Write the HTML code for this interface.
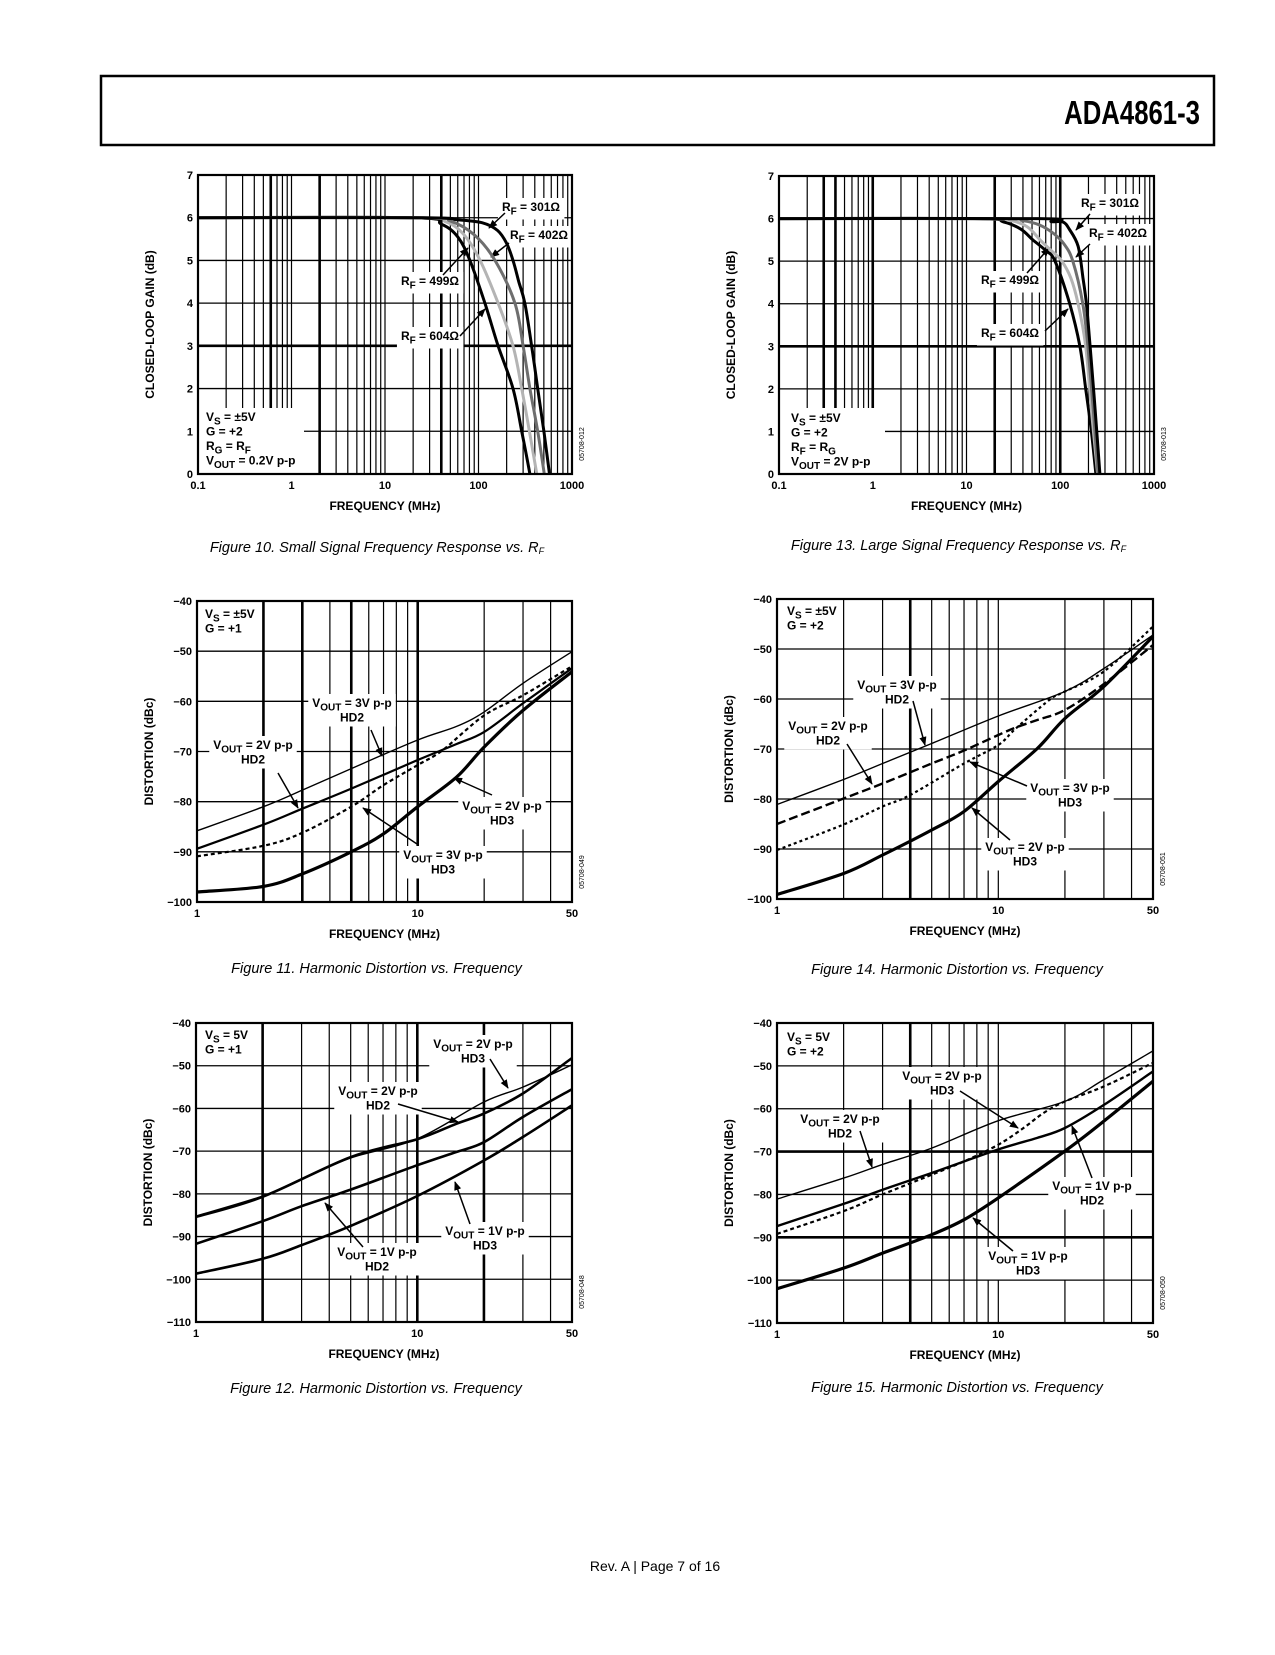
<!DOCTYPE html>
<html><head><meta charset="utf-8">
<style>
html,body{margin:0;padding:0;background:#fff;}
body{width:1275px;height:1650px;position:relative;overflow:hidden;font-family:"Liberation Sans",sans-serif;}
</style></head>
<body>
<svg id="pg" width="1275" height="1650" viewBox="0 0 1275 1650" xmlns="http://www.w3.org/2000/svg">
<defs>
<marker id="ah" viewBox="0 0 10 10" refX="9" refY="5" markerWidth="9" markerHeight="9" markerUnits="userSpaceOnUse" orient="auto">
<path d="M0,1 L10,5 L0,9 z" fill="#000"/></marker>
</defs>
<rect x="101" y="76" width="1113" height="69" fill="none" stroke="#000" stroke-width="2.5"/>
<text x="1200" y="124" text-anchor="end" font-family="Liberation Sans" font-weight="bold" font-size="33" transform="translate(1200 0) scale(0.78 1) translate(-1200 0)">ADA4861-3</text>
<text x="655" y="1571" text-anchor="middle" font-family="Liberation Sans" font-size="14">Rev. A | Page 7 of 16</text>
</svg>
<script>
// ---------- Figure 10 data ----------
const f10Freq301 = [0.1,25,60,110,160,200,234,270,313,370,430,500,575];
const f10Gain301 = [6,6,5.95,5.88,5.7,5.4,5.0,4.5,4.0,3.0,2.0,1.0,0];
const f10Freq402 = [0.1,25,50,90,150,245,300,355,430,505];
const f10Gain402 = [6,6,5.92,5.6,5.0,4.0,3.0,2.0,1.0,0];
const f10Freq499 = [0.1,22,45,70,104,162,234,290,350,420];
const f10Gain499 = [6,6,5.9,5.6,5.0,4.0,3.0,2.0,1.0,0];
const f10Freq604 = [0.1,20,40,60,81,117,162,234,290,355];
const f10Gain604 = [6,6,5.85,5.55,5.0,4.0,3.0,2.0,1.0,0];
// ---------- Figure 13 data ----------
const f13Freq301 = [0.1,60,80,107,125,155,175,190,208,230,265];
const f13Gain301 = [6,6,5.93,5.92,5.75,5.35,4.6,4.0,3.0,1.8,0];
const f13Freq402 = [0.1,20,40,60,85,110,136,174,197,225,253];
const f13Gain402 = [6,6,5.95,5.85,5.65,5.4,5.0,4.0,3.0,1.5,0];
const f13Freq499 = [0.1,15,30,45,61,80,104,130,155,187,215,250];
const f13Gain499 = [6,6,5.95,5.8,5.5,5.25,5.0,4.6,4.0,3.0,1.5,0];
const f13Freq604 = [0.1,12,25,38,51,70,88,126,162,187,215,240];
const f13Gain604 = [6,6,5.92,5.75,5.5,5.25,5.0,4.0,3.0,2.0,1.0,0];
// ---------- Figure 11 data ----------
const f11FreqA = [1,2,3,5,10,15,20,30,50];
const f11Hd2_3V = [-85.8,-81,-77.7,-73.4,-67.7,-65,-62.1,-56.4,-50.1];
const f11Hd2_2V = [-89.4,-84.6,-81.4,-77.4,-71.7,-68.5,-66.1,-60.4,-53.4];
const f11FreqB = [1,2,3,5,7,10,13,20,30,50];
const f11Hd3_3V = [-90.9,-88.8,-86.2,-81,-76.7,-72.7,-69.7,-62.8,-58.8,-53];
const f11FreqC = [1,2,3,5,7,10,15,20,30,50];
const f11Hd3_2V = [-98,-96.9,-94.4,-90,-86.4,-81,-75.1,-69.1,-61.8,-54.1];
// ---------- Figure 14 data ----------
const f14FreqA = [1,2,3,5,10,20,30,50];
const f14Hd2_3V = [-81.1,-76.1,-72.9,-68.9,-63.4,-58.5,-53.9,-47.2];
const f14FreqB = [1,2,3,5,7,10,12,15,20,30,50];
const f14Hd2_2V = [-85,-79.9,-76.9,-72.9,-70.3,-67.2,-65.7,-64.2,-62.2,-57,-49.2];
const f14FreqC = [1,2,3,4,7,10,12,17,20,30,50];
const f14Hd3_3V = [-90.2,-85.1,-81.5,-79.2,-72.9,-69.2,-65.9,-60.2,-58.5,-54.5,-45.5];
const f14FreqD = [1,2,3,5,7,10,15,20,30,50];
const f14Hd3_2V = [-99.1,-94.9,-91.2,-86.2,-82.5,-76.5,-69.9,-63.9,-57.5,-47.5];
// ---------- Figure 12 data ----------
const f12FreqA = [1,2,3,5,10,20,30,50];
const f12Hd3_2V = [-85.2,-80.5,-76.5,-71.6,-67.1,-58.5,-55,-49.8];
const f12FreqB = [1,2,5,10,15,20,30,50];
const f12Hd2_2V = [-85.4,-80.7,-71.4,-67.2,-63.6,-61.2,-56.5,-48.2];
const f12FreqC = [1,2,3,5,10,15,20,30,50];
const f12Hd2_1V = [-91.7,-86.4,-82.9,-79,-73.3,-70.2,-67.9,-62,-55.5];
const f12FreqD = [1,2,3,5,10,20,30,50];
const f12Hd3_1V = [-98.7,-95.2,-92,-87.5,-80.5,-72.2,-66.7,-59.3];
// ---------- Figure 15 data ----------
const f15FreqA = [1,2,3,5,10,20,30,50];
const f15Hd2_2V = [-81.1,-76.2,-73,-69.2,-62.8,-58.3,-53.2,-46.5];
const f15FreqB = [1,2,3,5,10,15,20,30,50];
const f15Hd2_1V = [-87.4,-82.2,-78.9,-75,-69.5,-66.8,-64.5,-59.1,-51.3];
const f15FreqC = [1,2,3,5,7,10,13,16,20,30,50];
const f15Hd3_2V = [-89.2,-83.9,-80,-75.4,-72.3,-68.4,-64.5,-61,-58.3,-54.8,-49.3];
const f15FreqD = [1,2,3,5,7,10,20,30,50];
const f15Hd3_1V = [-102,-97.2,-93.7,-89.4,-85.9,-80.8,-69.9,-62.9,-53.6];
// tick labels
const gainTicks = [0,1,2,3,4,5,6,7];
const freqTicksWide = [0.1,1,10,100,1000];
const freqTickLabelsWide = ['0.1','1','10','100','1000'];
const distTicks6 = [-40,-50,-60,-70,-80,-90,-100];
const distTicks7 = [-40,-50,-60,-70,-80,-90,-100,-110];
const freqTicksNarrow = [1,10,50];

const NS='http://www.w3.org/2000/svg';
const pg=document.getElementById('pg');
function mk(tag,attrs,parent){const e=document.createElementNS(NS,tag);for(const k in attrs)e.setAttribute(k,attrs[k]);(parent||pg).appendChild(e);return e;}
function minus(v){return String(v).replace('-','\u2212');}

function makeScales(c){
  const l0=Math.log10(c.xmin),l1=Math.log10(c.xmax);
  c.sx=f=>c.x+(Math.log10(f)-l0)/(l1-l0)*c.w;
  c.sy=v=>c.y+(c.ymax-v)/(c.ymax-c.ymin)*c.h;
}
function smoothPath(pts){
  let d='M'+pts[0][0].toFixed(1)+','+pts[0][1].toFixed(1);
  for(let i=0;i<pts.length-1;i++){
    const p0=pts[Math.max(0,i-1)],p1=pts[i],p2=pts[i+1],p3=pts[Math.min(pts.length-1,i+2)];
    const c1=[p1[0]+(p2[0]-p0[0])/6,p1[1]+(p2[1]-p0[1])/6];
    const c2=[p2[0]-(p3[0]-p1[0])/6,p2[1]-(p3[1]-p1[1])/6];
    d+=' C'+c1[0].toFixed(1)+','+c1[1].toFixed(1)+' '+c2[0].toFixed(1)+','+c2[1].toFixed(1)+' '+p2[0].toFixed(1)+','+p2[1].toFixed(1);
  }
  return d;
}
function frame(c){
  const g=mk('g',{});
  
  
  c.g=g;
  const l0=Math.floor(Math.log10(c.xmin)),l1=Math.ceil(Math.log10(c.xmax));
  for(let d=l0;d<l1;d++){for(let m=1;m<10;m++){const f=m*Math.pow(10,d);
    if(f<=c.xmin*1.0001||f>=c.xmax*0.9999)continue;
    const heavy=c.heavyX.some(h=>Math.abs(h-f)/f<1e-6);
    const ln=mk('line',{x1:c.sx(f),x2:c.sx(f),y1:c.y,y2:c.y+c.h,stroke:'#000','stroke-width':heavy?2.6:1.2},g);
    
    
  }}
  c.yTicks.forEach(v=>{
    const heavy=c.heavyY.includes(v);
    const ln=mk('line',{x1:c.x,x2:c.x+c.w,y1:c.sy(v),y2:c.sy(v),stroke:'#000','stroke-width':heavy?2.6:1.3},g);
    
    
    const t=mk('text',{x:c.x-5,y:c.sy(v)+4,'text-anchor':'end','font-size':11,'font-weight':'bold'},g);
    t.textContent=minus(v);
    
    
  });
  c.xTicks.forEach((v,i)=>{
    const t=mk('text',{x:c.sx(v),y:c.y+c.h+15,'text-anchor':'middle','font-size':11,'font-weight':'bold'},g);
    t.textContent=c.xLabels?c.xLabels[i]:String(v);
    
    
  });
  const xt=mk('text',{x:c.x+c.w/2,y:c.y+c.h+36,'text-anchor':'middle','font-size':12,'font-weight':'bold'},g);
  xt.textContent='FREQUENCY (MHz)';
  
  
  const yx=c.x-44,yy=c.y+c.h/2;
  const yt=mk('text',{x:yx,y:yy,'text-anchor':'middle','font-size':12,'font-weight':'bold',transform:'rotate(-90 '+yx+' '+yy+')'},g);
  yt.textContent=c.yTitle;
  
  
  const cx=c.x+c.w+12,cy=c.y+c.h-30;
  const code=mk('text',{x:cx,y:cy,'text-anchor':'middle','font-size':7,transform:'rotate(-90 '+cx+' '+cy+')'},g);
  code.textContent=c.code;
  
  
  const cap=mk('text',{x:c.x+c.w/2-8,y:c.capY,'text-anchor':'middle','font-size':14.5,'font-style':'italic'},g);
  cap.innerHTML=c.caption;
  
  
}
function border(c){
  const r=mk('rect',{x:c.x,y:c.y,width:c.w,height:c.h,fill:'none',stroke:'#000','stroke-width':2.2},c.g);
  
  
}
function series(c,xs,ys,name,stroke,width,dash){
  const pts=xs.map((f,i)=>[c.sx(f),c.sy(ys[i])]);
  const p=mk('path',{d:smoothPath(pts),fill:'none',stroke:stroke,'stroke-width':width,'stroke-linejoin':'round'},c.g);
  if(dash)p.setAttribute('stroke-dasharray',dash);
  
  
}
function addLines(t,lines,x,y0,anchor){
  lines.forEach((ln,i)=>{
    const ts=mk('tspan',{x:x,y:y0+i*14.5},t);
    const parts=ln.split(/(\{[^}]*\})/);
    parts.forEach(pt=>{
      if(!pt)return;
      if(pt[0]==='{'){
        const s=mk('tspan',{dy:3.5,'font-size':10},ts);s.textContent=pt.slice(1,-1);
        const b=mk('tspan',{dy:-3.5},ts);b.textContent='\u200b';
      } else {const s=mk('tspan',{},ts);s.textContent=pt;}
    });
  });
}
function label(c,lines,x,y,anchor,name,arrow){
  const t=mk('text',{x:x,y:y,'text-anchor':anchor,'font-size':12,'font-weight':'bold'},c.g);
  addLines(t,lines,x,y,anchor);
  const bb=t.getBBox();
  const r=mk('rect',{x:bb.x-4,y:bb.y-2,width:bb.width+8,height:bb.height+4,fill:'#fff'});
  c.g.insertBefore(r,t);
  
  
  
  
  if(arrow){
    const a=mk('line',{x1:arrow[0],y1:arrow[1],x2:arrow[2],y2:arrow[3],stroke:'#000','stroke-width':1.5,'marker-end':'url(#ah)'},c.g);
    
    
  }
}
function textBlock(c,lines,x,y,name){
  const t=mk('text',{x:x,y:y,'font-size':12,'font-weight':'bold'},c.g);
  addLines(t,lines,x,y,'start');
  
  
  return t;
}

// ===== Figure 10 =====
const c10={name:'figure-10-chart',x:198,y:175,w:374,h:299,xmin:0.1,xmax:1000,ymin:0,ymax:7,
  heavyX:[0.6,2,40],heavyY:[3],yTicks:gainTicks,xTicks:freqTicksWide,xLabels:freqTickLabelsWide,
  yTitle:'CLOSED-LOOP GAIN (dB)',code:'05708-012',capY:552,
  caption:'Figure 10. Small Signal Frequency Response vs. R<tspan font-size="9" dy="2">F</tspan>'};
makeScales(c10);frame(c10);
{const r=mk('rect',{x:199,y:408,width:105,height:65,fill:'#fff'},c10.g);}
textBlock(c10,['V{S} = ±5V','G = +2','R{G} = R{F}','V{OUT} = 0.2V p-p'],206,421,'test-conditions');
label(c10,['R{F} = 301Ω'],531,211,'middle','label-rf-301',[505,213,489,228]);
label(c10,['R{F} = 402Ω'],539,239,'middle','label-rf-402',[509,243,491,257]);
label(c10,['R{F} = 499Ω'],430,285,'middle','label-rf-499',[443,275,468,248]);
label(c10,['R{F} = 604Ω'],430,340,'middle','label-rf-604',[460,336,485,309]);
series(c10,f10Freq604,f10Gain604,'curve-rf-604','#000',3);
series(c10,f10Freq499,f10Gain499,'curve-rf-499','#b4b4b4',3);
series(c10,f10Freq402,f10Gain402,'curve-rf-402','#6e6e6e',3);
series(c10,f10Freq301,f10Gain301,'curve-rf-301','#000',3);
border(c10);

// ===== Figure 13 =====
const c13={name:'figure-13-chart',x:779,y:176,w:375,h:298,xmin:0.1,xmax:1000,ymin:0,ymax:7,
  heavyX:[0.3,0.4,1,20,100],heavyY:[3],yTicks:gainTicks,xTicks:freqTicksWide,xLabels:freqTickLabelsWide,
  yTitle:'CLOSED-LOOP GAIN (dB)',code:'05708-013',capY:550,
  caption:'Figure 13. Large Signal Frequency Response vs. R<tspan font-size="9" dy="2">F</tspan>'};
makeScales(c13);frame(c13);
{const r=mk('rect',{x:780,y:408,width:105,height:65,fill:'#fff'},c13.g);}
textBlock(c13,['V{S} = ±5V','G = +2','R{F} = R{G}','V{OUT} = 2V p-p'],791,422,'test-conditions');
label(c13,['R{F} = 301Ω'],1110,207,'middle','label-rf-301',[1090,214,1076,230]);
label(c13,['R{F} = 402Ω'],1118,237,'middle','label-rf-402',[1090,244,1076,257]);
label(c13,['R{F} = 499Ω'],1010,284,'middle','label-rf-499',[1027,273,1049,248]);
label(c13,['R{F} = 604Ω'],1010,337,'middle','label-rf-604',[1045,331,1068,309]);
series(c13,f13Freq604,f13Gain604,'curve-rf-604','#000',3);
series(c13,f13Freq499,f13Gain499,'curve-rf-499','#b4b4b4',3);
series(c13,f13Freq402,f13Gain402,'curve-rf-402','#6e6e6e',3);
series(c13,f13Freq301,f13Gain301,'curve-rf-301','#000',3);
border(c13);

// ===== Figure 11 =====
const c11={name:'figure-11-chart',x:197,y:601,w:375,h:301,xmin:1,xmax:50,ymin:-100,ymax:-40,
  heavyX:[2,3,5,10],heavyY:[],yTicks:distTicks6,xTicks:freqTicksNarrow,
  yTitle:'DISTORTION (dBc)',code:'05708-049',capY:973,
  caption:'Figure 11. Harmonic Distortion vs. Frequency'};
makeScales(c11);frame(c11);
textBlock(c11,['V{S} = ±5V','G = +1'],205,618,'test-conditions');
label(c11,['V{OUT} = 3V p-p','HD2'],352,707,'middle','label-3v-hd2',[371,730,382,756]);
label(c11,['V{OUT} = 2V p-p','HD2'],253,749,'middle','label-2v-hd2',[278,773,298,808]);
label(c11,['V{OUT} = 2V p-p','HD3'],502,810,'middle','label-2v-hd3',[492,795,454,778]);
label(c11,['V{OUT} = 3V p-p','HD3'],443,859,'middle','label-3v-hd3',[417,844,363,808]);
series(c11,f11FreqA,f11Hd2_3V,'curve-3v-hd2','#000',1.4);
series(c11,f11FreqA,f11Hd2_2V,'curve-2v-hd2','#000',2.2);
series(c11,f11FreqB,f11Hd3_3V,'curve-3v-hd3','#000',2.2,'4 3');
series(c11,f11FreqC,f11Hd3_2V,'curve-2v-hd3','#000',3.2);
border(c11);

// ===== Figure 14 =====
const c14={name:'figure-14-chart',x:777,y:599,w:376,h:300,xmin:1,xmax:50,ymin:-100,ymax:-40,
  heavyX:[4],heavyY:[],yTicks:distTicks6,xTicks:freqTicksNarrow,
  yTitle:'DISTORTION (dBc)',code:'05708-051',capY:974,
  caption:'Figure 14. Harmonic Distortion vs. Frequency'};
makeScales(c14);frame(c14);
textBlock(c14,['V{S} = ±5V','G = +2'],787,615,'test-conditions');
label(c14,['V{OUT} = 3V p-p','HD2'],897,689,'middle','label-3v-hd2',[913,701,925,745]);
label(c14,['V{OUT} = 2V p-p','HD2'],828,730,'middle','label-2v-hd2',[847,744,872,784]);
label(c14,['V{OUT} = 3V p-p','HD3'],1070,792,'middle','label-3v-hd3',[1027,786,970,762]);
label(c14,['V{OUT} = 2V p-p','HD3'],1025,851,'middle','label-2v-hd3',[1010,840,972,808]);
series(c14,f14FreqA,f14Hd2_3V,'curve-3v-hd2','#000',1.4);
series(c14,f14FreqB,f14Hd2_2V,'curve-2v-hd2','#000',2.4,'9 4');
series(c14,f14FreqC,f14Hd3_3V,'curve-3v-hd3','#000',2.2,'3 3');
series(c14,f14FreqD,f14Hd3_2V,'curve-2v-hd3','#000',3.2);
border(c14);

// ===== Figure 12 =====
const c12={name:'figure-12-chart',x:196,y:1023,w:376,h:299,xmin:1,xmax:50,ymin:-110,ymax:-40,
  heavyX:[2,10,20],heavyY:[],yTicks:distTicks7,xTicks:freqTicksNarrow,
  yTitle:'DISTORTION (dBc)',code:'05708-048',capY:1393,
  caption:'Figure 12. Harmonic Distortion vs. Frequency'};
makeScales(c12);frame(c12);
textBlock(c12,['V{S} = 5V','G = +1'],205,1039,'test-conditions');
label(c12,['V{OUT} = 2V p-p','HD3'],473,1048,'middle','label-2v-hd3',[490,1059,508,1088]);
label(c12,['V{OUT} = 2V p-p','HD2'],378,1095,'middle','label-2v-hd2',[398,1104,458,1122]);
label(c12,['V{OUT} = 1V p-p','HD2'],377,1256,'middle','label-1v-hd2',[363,1247,325,1203]);
label(c12,['V{OUT} = 1V p-p','HD3'],485,1235,'middle','label-1v-hd3',[470,1224,455,1182]);
series(c12,f12FreqA,f12Hd3_2V,'curve-2v-hd3','#000',1.4);
series(c12,f12FreqB,f12Hd2_2V,'curve-2v-hd2','#000',2.6);
series(c12,f12FreqC,f12Hd2_1V,'curve-1v-hd2','#000',2.6);
series(c12,f12FreqD,f12Hd3_1V,'curve-1v-hd3','#000',2.6);
border(c12);

// ===== Figure 15 =====
const c15={name:'figure-15-chart',x:777,y:1023,w:376,h:300,xmin:1,xmax:50,ymin:-110,ymax:-40,
  heavyX:[4],heavyY:[-70,-90],yTicks:distTicks7,xTicks:freqTicksNarrow,
  yTitle:'DISTORTION (dBc)',code:'05708-050',capY:1392,
  caption:'Figure 15. Harmonic Distortion vs. Frequency'};
makeScales(c15);frame(c15);
textBlock(c15,['V{S} = 5V','G = +2'],787,1041,'test-conditions');
label(c15,['V{OUT} = 2V p-p','HD3'],942,1080,'middle','label-2v-hd3',[960,1091,1018,1128]);
label(c15,['V{OUT} = 2V p-p','HD2'],840,1123,'middle','label-2v-hd2',[860,1131,872,1167]);
label(c15,['V{OUT} = 1V p-p','HD2'],1092,1190,'middle','label-1v-hd2',[1092,1178,1072,1126]);
label(c15,['V{OUT} = 1V p-p','HD3'],1028,1260,'middle','label-1v-hd3',[1013,1251,973,1218]);
series(c15,f15FreqA,f15Hd2_2V,'curve-2v-hd2','#000',1.4);
series(c15,f15FreqB,f15Hd2_1V,'curve-1v-hd2','#000',2.4);
series(c15,f15FreqC,f15Hd3_2V,'curve-2v-hd3','#000',2.2,'4 3');
series(c15,f15FreqD,f15Hd3_1V,'curve-1v-hd3','#000',3.2);
border(c15);
</script>
</body></html>
